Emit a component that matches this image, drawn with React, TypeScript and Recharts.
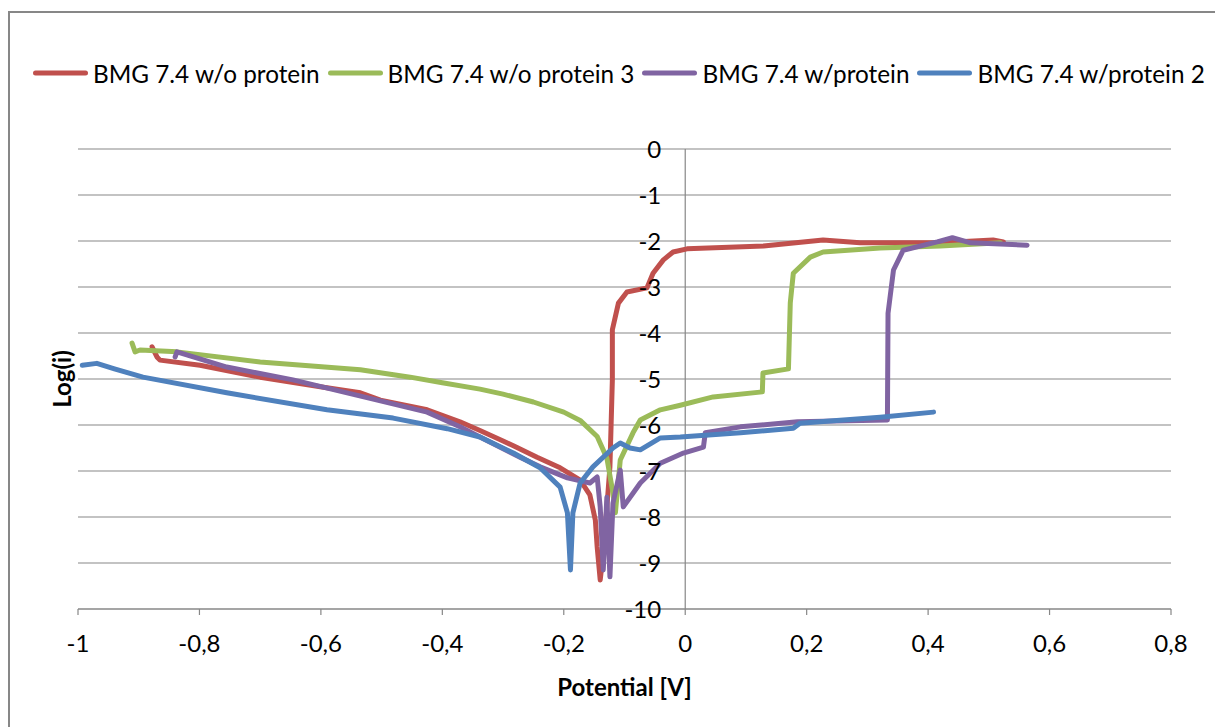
import React from 'react';
import { LineChart, Line, XAxis, YAxis, CartesianGrid, Legend, ReferenceLine, ReferenceDot } from 'recharts';

const xTicks = [-1, -0.8, -0.6, -0.4, -0.2, 0, 0.2, 0.4, 0.6, 0.8];
const yTicks = [0, -1, -2, -3, -4, -5, -6, -7, -8, -9, -10];

const seriesNames = ['BMG 7.4 w/o protein', 'BMG 7.4 w/o protein 3', 'BMG 7.4 w/protein', 'BMG 7.4 w/protein 2'];
const seriesColors = ['#C0504D', '#9BBB59', '#8064A2', '#4F81BD'];

const redPotential = [-0.878, -0.870, -0.865, -0.799, -0.700, -0.601, -0.535, -0.502, -0.425, -0.371, -0.338, -0.300, -0.283, -0.244, -0.206, -0.173, -0.157, -0.148, -0.145, -0.140, -0.135, -0.129, -0.124, -0.120, -0.120, -0.110, -0.096, -0.063, -0.053, -0.036, -0.020, 0.003, 0.129, 0.227, 0.288, 0.420, 0.507, 0.524];
const redLogI = [-4.30, -4.52, -4.59, -4.70, -4.96, -5.17, -5.30, -5.46, -5.67, -5.93, -6.12, -6.35, -6.45, -6.70, -6.93, -7.20, -7.52, -8.07, -8.65, -9.37, -8.78, -7.78, -6.91, -5.02, -3.93, -3.35, -3.11, -3.02, -2.70, -2.41, -2.24, -2.17, -2.11, -1.98, -2.04, -2.04, -1.98, -2.02];

const greenPotential = [-0.911, -0.906, -0.898, -0.837, -0.700, -0.535, -0.453, -0.400, -0.338, -0.300, -0.250, -0.200, -0.173, -0.145, -0.129, -0.119, -0.115, -0.107, -0.086, -0.074, -0.041, -0.008, 0.046, 0.127, 0.128, 0.170, 0.173, 0.178, 0.206, 0.227, 0.321, 0.420, 0.519];
const greenLogI = [-4.22, -4.41, -4.37, -4.41, -4.63, -4.80, -4.96, -5.08, -5.22, -5.33, -5.50, -5.72, -5.90, -6.25, -6.72, -7.48, -7.91, -6.76, -6.17, -5.89, -5.67, -5.57, -5.39, -5.28, -4.87, -4.78, -3.35, -2.70, -2.35, -2.24, -2.15, -2.11, -2.04];

const purplePotential = [-0.840, -0.837, -0.755, -0.646, -0.507, -0.425, -0.371, -0.338, -0.272, -0.239, -0.194, -0.157, -0.145, -0.140, -0.135, -0.129, -0.124, -0.119, -0.107, -0.102, -0.074, -0.041, -0.003, 0.030, 0.033, 0.091, 0.185, 0.333, 0.334, 0.343, 0.359, 0.415, 0.440, 0.470, 0.563];
const purpleLogI = [-4.52, -4.41, -4.74, -5.02, -5.46, -5.72, -6.04, -6.26, -6.70, -6.91, -7.15, -7.26, -7.13, -7.78, -9.15, -7.57, -9.30, -7.70, -6.98, -7.78, -7.26, -6.83, -6.61, -6.48, -6.17, -6.04, -5.93, -5.89, -3.57, -2.63, -2.20, -2.02, -1.93, -2.04, -2.09];

const bluePotential = [-0.993, -0.969, -0.940, -0.893, -0.755, -0.590, -0.481, -0.392, -0.338, -0.283, -0.239, -0.206, -0.194, -0.189, -0.185, -0.173, -0.152, -0.119, -0.107, -0.091, -0.074, -0.041, -0.008, 0.091, 0.178, 0.189, 0.321, 0.409];
const blueLogI = [-4.70, -4.66, -4.78, -4.96, -5.30, -5.67, -5.85, -6.08, -6.26, -6.61, -6.93, -7.35, -7.91, -9.15, -7.91, -7.26, -6.91, -6.50, -6.39, -6.50, -6.54, -6.28, -6.26, -6.17, -6.07, -5.96, -5.83, -5.72];

const toPoints = (xs: number[], ys: number[]) => xs.map((x, i) => ({ x, y: ys[i] }));

const seriesData = [
  toPoints(redPotential, redLogI),
  toPoints(greenPotential, greenLogI),
  toPoints(purplePotential, purpleLogI),
  toPoints(bluePotential, blueLogI),
];

const FONT = 'Lato, "Open Sans", sans-serif';
const GRID = '#878787';
const W = 1215;
const H = 727;

const fmt = (v: number) => String(v).replace('.', ',');

const renderLegend = (props: any) => {
  const payload = props.payload || [];
  return (
    <div style={{ display: 'flex', alignItems: 'center', height: 30, paddingLeft: 33, fontFamily: FONT, fontSize: 24.3, color: '#000' }}>
      {payload.map((e: any, i: number) => (
        <div key={i} style={{ display: 'flex', alignItems: 'center', marginRight: 8, whiteSpace: 'nowrap' }}>
          <svg width={55} height={10} style={{ display: 'block' }}>
            <line x1={2.5} x2={52.5} y1={5} y2={5} stroke={e.color} strokeWidth={5} strokeLinecap="round" />
          </svg>
          <span style={{ marginLeft: 5 }}>{e.value}</span>
        </div>
      ))}
    </div>
  );
};

const YTitle = (props: any) => {
  const vb = props.viewBox || { x: 0, y: 0, width: 0, height: 0 };
  const cx = vb.x + vb.width - 17;
  const cy = vb.y + vb.height / 2;
  return (
    <text x={cx} y={cy} transform={`rotate(-90 ${cx} ${cy})`} textAnchor="middle" dominantBaseline="central"
      style={{ fontFamily: FONT, fontSize: 24, fontWeight: 700, fill: '#000' }}>
      Log(i)
    </text>
  );
};

const EmptyTick = () => <g />;

export default function App() {
  return (
    <div style={{ position: 'relative', width: W, height: H, fontFamily: FONT, overflow: 'hidden' }}>
      <style>{'html,body{margin:0;padding:0;overflow:hidden;}'}</style>
      <div style={{ position: 'absolute', left: 8, top: 11, width: W - 8, height: H - 11, borderTop: `2px solid ${GRID}`, borderLeft: `2px solid ${GRID}`, boxSizing: 'border-box' }} />
      <LineChart width={W} height={H} margin={{ top: 149, right: 44, bottom: 78, left: 0 }}>
        <CartesianGrid vertical={false} stroke={GRID} strokeWidth={1.2} />
        <XAxis
          type="number"
          dataKey="x"
          domain={[-1, 0.8]}
          ticks={xTicks}
          allowDataOverflow
          height={40}
          tickFormatter={fmt}
          axisLine={{ stroke: GRID, strokeWidth: 1.2 }}
          tickLine={{ stroke: GRID, strokeWidth: 1.2 }}
          tickSize={6}
          tickMargin={20}
          tick={{ fontSize: 24, fill: '#000', fontFamily: FONT }}
          label={{ value: 'Potential [V]', position: 'bottom', offset: 30, style: { fontSize: 24, fontWeight: 700, fill: '#000', fontFamily: FONT } }}
        />
        <YAxis
          type="number"
          dataKey="y"
          domain={[-10, 0]}
          ticks={yTicks}
          allowDataOverflow
          width={78}
          tick={EmptyTick}
          axisLine={false}
          tickLine={false}
          label={<YTitle />}
        />
        <ReferenceLine x={0} stroke={GRID} strokeWidth={1.2} />
        {yTicks.map((v) => (
          <ReferenceDot
            key={v}
            x={0}
            y={v}
            r={1}
            fill="none"
            stroke="none"
            label={{ value: String(v), position: 'left', offset: 23, style: { fontSize: 24, fill: '#000', fontFamily: FONT } }}
          />
        ))}
        {seriesData.map((d, i) => (
          <Line
            key={seriesNames[i]}
            data={d}
            dataKey="y"
            name={seriesNames[i]}
            type="linear"
            stroke={seriesColors[i]}
            strokeWidth={5}
            strokeLinejoin="round"
            strokeLinecap="round"
            dot={false}
            activeDot={false}
            legendType="plainline"
            isAnimationActive={false}
          />
        ))}
        <Legend verticalAlign="middle" layout="horizontal" content={renderLegend} wrapperStyle={{ top: 58, left: 0, width: W }} />
      </LineChart>
    </div>
  );
}
